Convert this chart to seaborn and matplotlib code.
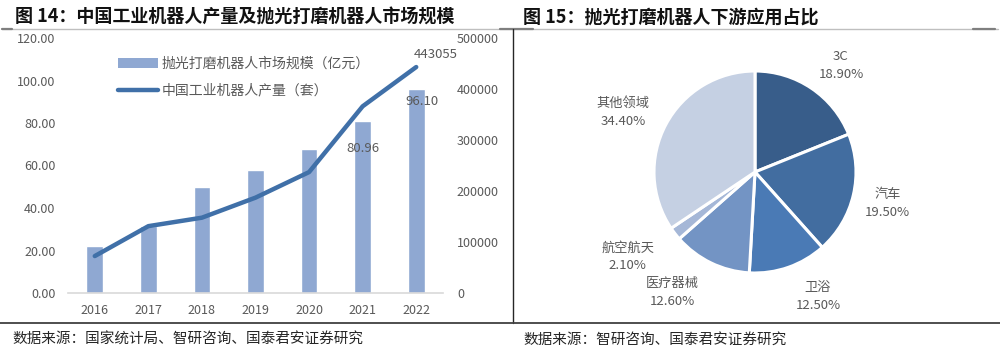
import numpy as np
import pandas as pd
import matplotlib
matplotlib.use("Agg")
import matplotlib.pyplot as plt
from matplotlib.lines import Line2D
from matplotlib.patches import Patch
import seaborn as sns

# ---------------- data ----------------
years = ["2016", "2017", "2018", "2019", "2020", "2021", "2022"]
market_size = [22.0, 31.7, 49.9, 57.9, 67.9, 80.96, 96.10]          # 亿元
robot_output = [72426, 131079, 147682, 186967, 237068, 366044, 443055]  # 套
bar_name = "抛光打磨机器人市场规模（亿元）"
line_name = "中国工业机器人产量（套）"
left_ticks = [0, 20, 40, 60, 80, 100, 120]
right_ticks = [0, 100000, 200000, 300000, 400000, 500000]

pie_labels = ["3C", "汽车", "卫浴", "医疗器械", "航空航天", "其他领域"]
pie_values = [18.9, 19.5, 12.5, 12.6, 2.1, 34.4]

title_left = "图 14：中国工业机器人产量及抛光打磨机器人市场规模"
title_right = "图 15：抛光打磨机器人下游应用占比"
source_left = "数据来源：国家统计局、智研咨询、国泰君安证券研究"
source_right = "数据来源：智研咨询、国泰君安证券研究"

# ---------------- style ----------------
sns.set_theme(style="white")
plt.rcParams["font.family"] = ["Noto Sans CJK SC", "DejaVu Sans"]
plt.rcParams["axes.unicode_minus"] = False

GRAY = "#595959"
BAR_C = "#8FA8D2"
LINE_C = "#4070A8"
PIE_C = ["#385D8A", "#426DA0", "#4A7AB5", "#7394C4", "#A5B7D7", "#C5D0E3"]
# pixel nudges for pie labels (x right, y down)
PIE_NUDGE = [(8, 9), (-3, 0), (17, -7), (-22, -5), (-17, 0), (-9, 6)]

W, H = 1000, 355
fig = plt.figure(figsize=(W / 100, H / 100), dpi=100)


def fx(px):
    return px / W


def fy(py):
    return (H - py) / H


# ---------------- left chart ----------------
ax = fig.add_axes([fx(68), fy(293), fx(443) - fx(68), fy(38) - fy(293)])
df = pd.DataFrame({"year": years, "size": market_size, "output": robot_output})
sns.barplot(data=df, x="year", y="size", color=BAR_C, saturation=1,
            width=0.31, ax=ax, label=bar_name)
ax.set_xlim(-0.5, len(years) - 0.5)
ax.set_ylim(0, 120)
ax.set_yticks(left_ticks)
ax.set_yticklabels([f"{v:.2f}" for v in left_ticks])
ax.set_xlabel("")
ax.set_ylabel("")
for s in ["top", "right", "left"]:
    ax.spines[s].set_visible(False)
ax.spines["bottom"].set_color("#D9D9D9")
ax.spines["bottom"].set_linewidth(1.2)
ax.tick_params(axis="both", length=0, labelsize=9, colors=GRAY)
ax.tick_params(axis="y", pad=9)
ax.tick_params(axis="x", pad=8)
if ax.get_legend():
    ax.get_legend().remove()

# bar labels (last two bars)
ax.annotate(f"{market_size[5]:.2f}", xy=(5, market_size[5]), xytext=(0, -20),
            textcoords="offset points", ha="center", va="center",
            fontsize=9.5, color=GRAY)
ax.annotate(f"{market_size[6]:.2f}", xy=(6, market_size[6]), xytext=(4, -9),
            textcoords="offset points", ha="center", va="center",
            fontsize=9.5, color=GRAY)

ax2 = ax.twinx()
df["pos"] = np.arange(len(years))
sns.lineplot(data=df, x="pos", y="output", color=LINE_C, linewidth=3.2,
             ax=ax2, label=line_name, solid_capstyle="round")
ax2.set_ylim(0, 500000)
ax2.set_yticks(right_ticks)
ax2.set_yticklabels([f"{v:d}" for v in right_ticks])
ax2.set_xlim(-0.5, len(years) - 0.5)
ax2.set_ylabel("")
ax2.set_xlabel("")
for s in ["top", "right", "left", "bottom"]:
    ax2.spines[s].set_visible(False)
ax2.tick_params(axis="y", length=0, labelsize=9, colors=GRAY, pad=10)
ax2.annotate(f"{robot_output[-1]}", xy=(6, robot_output[-1]), xytext=(14, 9),
             textcoords="offset points", ha="center", va="center",
             fontsize=9.5, color=GRAY)

handles = [Patch(facecolor=BAR_C, edgecolor="none"),
           Line2D([0], [0], color=LINE_C, linewidth=3.2, solid_capstyle="round")]
leg = ax2.legend(handles, [bar_name, line_name], loc="upper left",
                 bbox_to_anchor=(fx(112), fy(51)), bbox_transform=fig.transFigure,
                 frameon=False, fontsize=10, handlelength=2.9, handletextpad=0.3,
                 labelspacing=0.95, borderaxespad=0)
for t in leg.get_texts():
    t.set_color(GRAY)

# ---------------- right chart (pie) ----------------
R_PX = 101
cx, cy = 755, 172
half = 130
ax3 = fig.add_axes([fx(cx - half), fy(cy + half), fx(2 * half), fy(cy - half) - fy(cy + half)])
lab_text = [f"{n}\n{v:.2f}%" for n, v in zip(pie_labels, pie_values)]
wedges, texts = ax3.pie(pie_values, labels=lab_text, colors=PIE_C,
                        startangle=90, counterclock=False, radius=1,
                        labeldistance=1.38,
                        wedgeprops=dict(edgecolor="white", linewidth=2.2),
                        textprops=dict(fontsize=9.5, color=GRAY, linespacing=1.45))
for t, (dx, dy) in zip(texts, PIE_NUDGE):
    t.set_ha("center")
    t.set_va("center")
    x0, y0 = t.get_position()
    t.set_position((x0 + dx / R_PX, y0 - dy / R_PX))
lim = half / R_PX
ax3.set_xlim(-lim, lim)
ax3.set_ylim(-lim, lim)
ax3.set_aspect("equal")
ax3.axis("off")

# ---------------- titles, frames, sources ----------------
fig.text(fx(15), fy(17), title_left, fontsize=13, fontweight="bold",
         color="#111111", ha="left", va="center")
fig.text(fx(523), fy(17), title_right, fontsize=13, fontweight="bold",
         color="#111111", ha="left", va="center")

fig.add_artist(Line2D([fx(2), fx(998)], [fy(28.5), fy(28.5)], color="#BFBFBF", lw=1.0))
fig.add_artist(Line2D([fx(2), fx(12)], [fy(28.5), fy(28.5)], color="#7F7F7F", lw=1.6))
fig.add_artist(Line2D([fx(500), fx(533)], [fy(28.5), fy(28.5)], color="#7F7F7F", lw=1.6))
fig.add_artist(Line2D([fx(973), fx(995)], [fy(28.5), fy(28.5)], color="#7F7F7F", lw=1.6))
fig.add_artist(Line2D([fx(512.5), fx(512.5)], [fy(29), fy(323)], color="#262626", lw=1.0))
fig.add_artist(Line2D([fx(0), fx(1000)], [fy(323), fy(323)], color="#404040", lw=1.3))

fig.text(fx(12), fy(340), source_left, fontsize=10.5, color="#262626",
         ha="left", va="center")
fig.text(fx(523), fy(340), source_right, fontsize=10.5, color="#262626",
         ha="left", va="center")

fig.savefig("out.png", dpi=100)
